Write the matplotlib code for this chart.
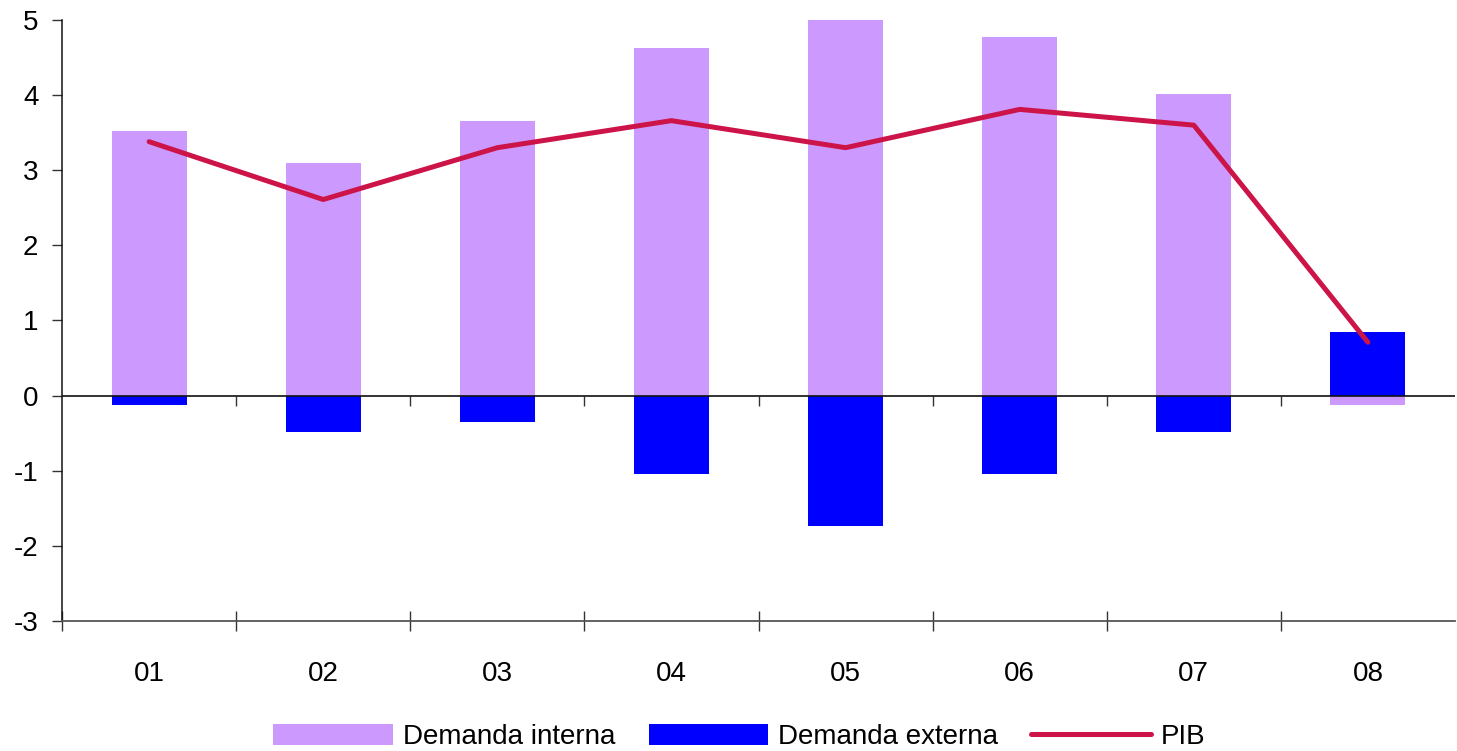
import matplotlib
matplotlib.use("Agg")
import matplotlib.pyplot as plt
import numpy as np

# Contributions to GDP growth (percentage points) by year
years = ["01", "02", "03", "04", "05", "06", "07", "08"]
demanda_interna = [3.52, 3.09, 3.66, 4.63, 5.00, 4.78, 4.01, -0.12]
demanda_externa = [-0.12, -0.48, -0.35, -1.04, -1.74, -1.04, -0.48, 0.85]
pib = [3.38, 2.61, 3.30, 3.66, 3.30, 3.81, 3.60, 0.71]

PURPLE = "#CC99FF"
BLUE = "#0000FF"
CRIMSON = "#CC1449"

plt.rcParams.update({
    "font.family": ["Liberation Sans", "DejaVu Sans"],
    "font.size": 20,
    "axes.unicode_minus": False,
})

fig = plt.figure(figsize=(14.57, 7.51), dpi=100)
ax = fig.add_axes([0.0426, 0.1731, 0.956, 0.8003])

x = np.arange(len(years))
width = 0.43
bar_int = ax.bar(x, demanda_interna, width=width, color=PURPLE, zorder=2)
bar_ext = ax.bar(x, demanda_externa, width=width, color=BLUE, zorder=2)
(line_pib,) = ax.plot(x, pib, color=CRIMSON, lw=3.6, solid_capstyle="round", zorder=3)

ax.set_xlim(-0.5, len(years) - 0.5)
ax.set_ylim(-3, 5)
ax.set_yticks(range(-3, 6))

# category boundaries carry the ticks, labels sit at the centres
bounds = np.arange(-0.5, len(years) - 0.5)
ax.set_xticks(bounds)
ax.set_xticklabels([])
ax.set_xticks(x, minor=True)
ax.set_xticklabels(years, minor=True)
ax.tick_params(axis="x", which="major", direction="inout", length=15, width=1.0, color="#333333")
ax.tick_params(axis="x", which="minor", length=0, pad=29, labelsize=20)
ax.tick_params(axis="y", direction="out", length=7, width=1.0, color="#333333", pad=10,
               labelsize=20)

for side in ("top", "right"):
    ax.spines[side].set_visible(False)
ax.spines["left"].set_color("#111111")
ax.spines["bottom"].set_color("#555555")
ax.spines["left"].set_linewidth(1.1)
ax.spines["bottom"].set_linewidth(1.3)

# zero line with its own small ticks
ax.axhline(0, color="#111111", lw=1.2, zorder=4)
zero_axis = ax.secondary_xaxis(3 / 8)
zero_axis.set_xticks(bounds[1:])
zero_axis.set_xticklabels([])
zero_axis.tick_params(direction="out", length=7, width=1.0, color="#333333")
zero_axis.spines["bottom"].set_visible(False)

fig.legend([bar_int, bar_ext, line_pib], ["Demanda interna", "Demanda externa", "PIB"],
           loc="center", bbox_to_anchor=(0.5075, 0.019), ncol=3, frameon=False,
           fontsize=20, handlelength=4.3, handleheight=0.8, handletextpad=0.36,
           columnspacing=1.2, borderpad=0)

fig.savefig("out.png", dpi=100)
